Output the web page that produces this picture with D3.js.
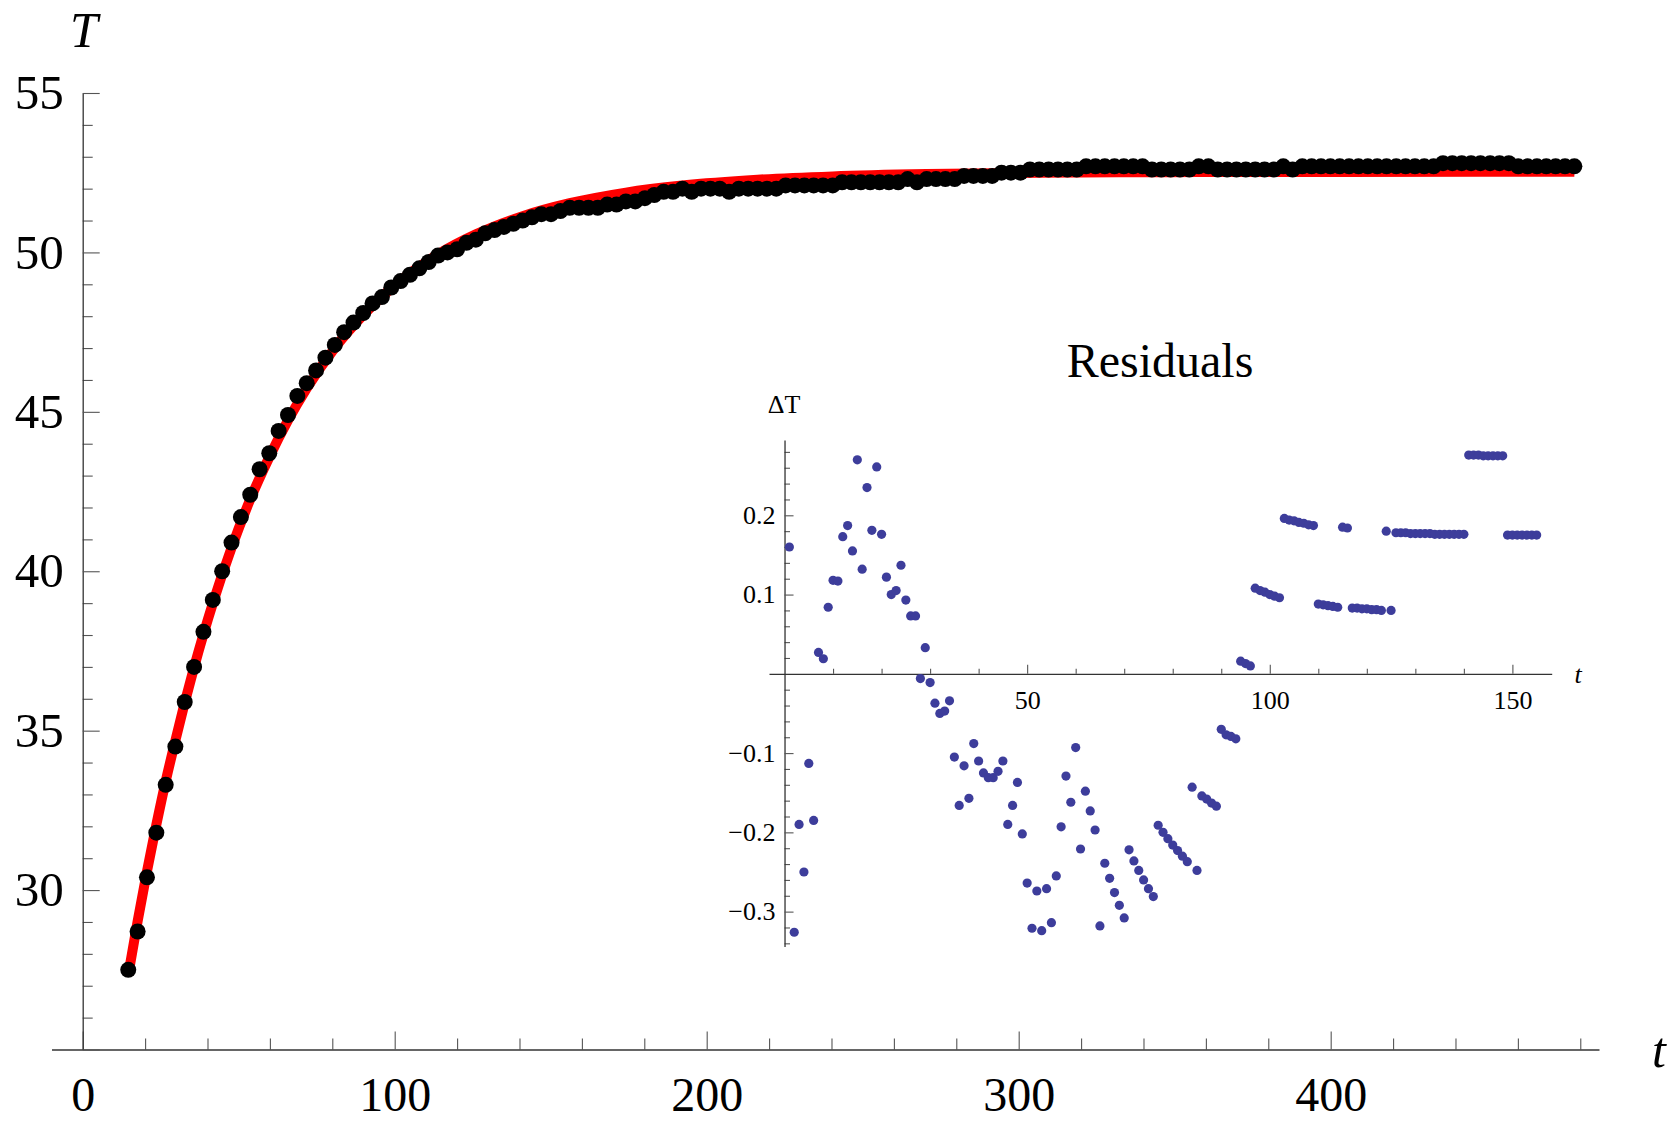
<!DOCTYPE html>
<html>
<head>
<meta charset="utf-8">
<script src="https://cdn.jsdelivr.net/npm/d3@7"></script>
<style>
  html, body { margin: 0; padding: 0; background: #fff; }
  svg { display: block; }
  text { font-family: "Liberation Serif", "Times New Roman", Times, serif; fill: #000; }
</style>
</head>
<body>
<svg id="chart" width="1675" height="1121"></svg>
<script>
// Heating curve: logged temperature T at each sample time t
const sampleTimes = [
  14.6,17.6,20.6,23.6,26.6,29.7,32.7,35.7,38.7,41.7,
  44.7,47.7,50.7,53.7,56.7,59.8,62.8,65.8,68.8,71.8,
  74.8,77.8,80.8,83.8,86.8,89.9,92.9,95.9,98.9,101.9,
  104.9,107.9,110.9,113.9,116.9,120.0,123.0,126.0,129.0,132.0,
  135.0,138.0,141.0,144.0,147.0,150.1,153.1,156.1,159.1,162.1,
  165.1,168.1,171.1,174.1,177.1,180.2,183.2,186.2,189.2,192.2,
  195.2,198.2,201.2,204.2,207.2,210.3,213.3,216.3,219.3,222.3,
  225.3,228.3,231.3,234.3,237.3,240.4,243.4,246.4,249.4,252.4,
  255.4,258.4,261.4,264.4,267.4,270.5,273.5,276.5,279.5,282.5,
  285.5,288.5,291.5,294.5,297.5,300.6,303.6,306.6,309.6,312.6,
  315.6,318.6,321.6,324.6,327.6,330.7,333.7,336.7,339.7,342.7,
  345.7,348.7,351.7,354.7,357.7,360.8,363.8,366.8,369.8,372.8,
  375.8,378.8,381.8,384.8,387.8,390.9,393.9,396.9,399.9,402.9,
  405.9,408.9,411.9,414.9,417.9,421.0,424.0,427.0,430.0,433.0,
  436.0,439.0,442.0,445.0,448.0,451.1,454.1,457.1,460.1,463.1,
  466.1,469.1,472.1,475.1,478.1
];

const temperatures = [
  27.5,28.7,30.4,31.8,33.3,34.5,35.9,37.0,38.1,39.1,
  40.0,40.9,41.7,42.4,43.2,43.7,44.4,44.9,45.5,45.9,
  46.3,46.7,47.1,47.5,47.8,48.1,48.4,48.6,48.9,49.1,
  49.3,49.5,49.7,49.9,50.0,50.1,50.3,50.4,50.6,50.7,
  50.8,50.9,51.0,51.1,51.2,51.2,51.3,51.4,51.4,51.4,
  51.4,51.5,51.5,51.6,51.6,51.7,51.8,51.9,51.9,52.0,
  51.9,52.0,52.0,52.0,51.9,52.0,52.0,52.0,52.0,52.0,
  52.1,52.1,52.1,52.1,52.1,52.1,52.2,52.2,52.2,52.2,
  52.2,52.2,52.2,52.3,52.2,52.3,52.3,52.3,52.3,52.4,
  52.4,52.4,52.4,52.5,52.5,52.5,52.6,52.6,52.6,52.6,
  52.6,52.6,52.7,52.7,52.7,52.7,52.7,52.7,52.7,52.6,
  52.6,52.6,52.6,52.6,52.7,52.7,52.6,52.6,52.6,52.6,
  52.6,52.6,52.6,52.7,52.6,52.7,52.7,52.7,52.7,52.7,
  52.7,52.7,52.7,52.7,52.7,52.7,52.7,52.7,52.7,52.7,
  52.8,52.8,52.8,52.8,52.8,52.8,52.8,52.8,52.7,52.7,
  52.7,52.7,52.7,52.7,52.7
];

// Fitted exponential approach curve, sampled along t
const fitTimes = [
  14.6,17.6,20.6,23.6,26.6,29.7,32.7,35.7,38.7,41.7,
  47.7,53.7,59.8,65.8,71.8,80.8,89.9,101.9,113.9,126.0,
  141.0,156.1,174.1,192.2,216.3,240.4,270.5,306.6,348.7,396.9,
  448.0,478.1
];
const fitTemperatures = [
  27.340,29.019,30.585,32.048,33.412,34.686,35.875,36.985,38.021,38.988,
  40.732,42.252,43.576,44.729,45.734,47.004,48.036,49.119,49.941,50.565,
  51.137,51.543,51.877,52.097,52.280,52.385,52.456,52.497,52.516,52.524,
  52.527,52.528
];

// Residuals ΔT of each sample (sample number 1, 2, ...)
const residuals = [
  0.160,-0.326,-0.190,-0.250,-0.113,-0.185,0.027,0.019,0.084,0.118,
  0.117,0.173,0.187,0.155,0.270,0.132,0.235,0.181,0.261,0.176,
  0.122,0.100,0.105,0.137,0.093,0.073,0.073,-0.006,0.033,-0.011,
  -0.037,-0.050,-0.047,-0.034,-0.105,-0.166,-0.116,-0.157,-0.088,-0.110,
  -0.125,-0.131,-0.131,-0.123,-0.110,-0.190,-0.166,-0.137,-0.202,-0.264,
  -0.321,-0.274,-0.324,-0.271,-0.314,-0.255,-0.193,-0.129,-0.162,-0.093,
  -0.221,-0.148,-0.173,-0.197,-0.318,-0.239,-0.258,-0.276,-0.292,-0.308,
  -0.222,-0.236,-0.248,-0.260,-0.271,-0.281,-0.191,-0.200,-0.208,-0.216,
  -0.223,-0.230,-0.237,-0.143,-0.248,-0.154,-0.158,-0.163,-0.167,-0.070,
  -0.077,-0.079,-0.082,0.016,0.013,0.010,0.108,0.105,0.103,0.100,
  0.098,0.096,0.196,0.194,0.193,0.191,0.190,0.188,0.187,0.088,
  0.087,0.086,0.085,0.084,0.185,0.184,0.083,0.083,0.082,0.082,
  0.081,0.081,0.080,0.180,0.080,0.178,0.178,0.178,0.177,0.177,
  0.177,0.177,0.177,0.176,0.176,0.176,0.176,0.176,0.176,0.176,
  0.276,0.276,0.276,0.275,0.275,0.275,0.275,0.275,0.175,0.175,
  0.175,0.175,0.175,0.175,0.175
];

// Tick positions
const mainXMajor = [0, 100, 200, 300, 400];
const mainXMinor = [20, 40, 60, 80, 120, 140, 160, 180, 220, 240, 260, 280, 320, 340, 360, 380, 420, 440, 460, 480];
const mainYMajor = [25, 30, 35, 40, 45, 50, 55];
const mainYMinor = [26, 27, 28, 29, 31, 32, 33, 34, 36, 37, 38, 39, 41, 42, 43, 44, 46, 47, 48, 49, 51, 52, 53, 54];
const insetXMajor = [50, 100, 150];
const insetXMinor = [10, 20, 30, 40, 60, 70, 80, 90, 110, 120, 130, 140];
const insetYMajor = [-0.3, -0.2, -0.1, 0.1, 0.2];
const insetYMinor = [-0.34, -0.32, -0.28, -0.26, -0.24, -0.22, -0.18, -0.16, -0.14, -0.12,
                     -0.08, -0.06, -0.04, -0.02, 0.02, 0.04, 0.06, 0.08, 0.12, 0.14, 0.16, 0.18,
                     0.22, 0.24, 0.26, 0.28];

const SERIF = '"Liberation Serif", "Times New Roman", Times, serif';
const AXIS_COLOR = "#333";
const TICK_COLOR = "#555";

const svg = d3.select("#chart");

function styleAxis(g, keepDomain) {
  g.attr("font-family", SERIF);
  g.select(".domain").attr("stroke", AXIS_COLOR).attr("stroke-width", 1.3);
  if (!keepDomain) g.select(".domain").remove();
  g.selectAll(".tick line").attr("stroke", TICK_COLOR).attr("stroke-width", 1.1);
}

function styleLabels(g, size) {
  g.selectAll("text")
    .attr("font-family", SERIF)
    .attr("font-size", size)
    .attr("fill", "#000");
}

// ---------- main plot ----------
const x = d3.scaleLinear().domain([-10, 486]).range([51.5, 1599]);
const y = d3.scaleLinear().domain([25, 55]).range([1049.5, 93]);

const main = svg.append("g");

// x axis (ticks point up, into the plot)
main.append("g")
  .attr("transform", `translate(0,${y(25)})`)
  .call(d3.axisBottom(x).tickValues(mainXMinor).tickSizeInner(-11).tickSizeOuter(0).tickFormat(""))
  .call(g => styleAxis(g, false));
main.append("g")
  .attr("transform", `translate(0,${y(25)})`)
  .call(d3.axisBottom(x).tickValues(mainXMajor).tickSizeInner(-18).tickSizeOuter(0).tickPadding(27).tickFormat(d3.format("d")))
  .call(g => styleAxis(g, true))
  .call(g => styleLabels(g, 48));

// y axis (ticks point right)
main.append("g")
  .attr("transform", `translate(${x(0)},0)`)
  .call(d3.axisLeft(y).tickValues(mainYMinor).tickSizeInner(-10).tickSizeOuter(0).tickFormat(""))
  .call(g => styleAxis(g, false));
main.append("g")
  .attr("transform", `translate(${x(0)},0)`)
  .call(d3.axisLeft(y).tickValues(mainYMajor).tickSizeInner(-17).tickSizeOuter(0).tickPadding(19)
        .tickFormat(d => d === 25 ? "" : d3.format("d")(d)))
  .call(g => styleAxis(g, true))
  .call(g => styleLabels(g, 49));

// axis names
main.append("text").attr("x", 84).attr("y", 47).attr("text-anchor", "middle")
  .attr("font-family", SERIF).attr("font-size", 50).attr("font-style", "italic").text("T");
main.append("text").attr("x", 1659).attr("y", 1067).attr("text-anchor", "middle")
  .attr("font-family", SERIF).attr("font-size", 50).attr("font-style", "italic").text("t");

// fitted curve
const fitLine = d3.line()
  .x((d, i) => x(fitTimes[i]))
  .y(d => y(d))
  .curve(d3.curveMonotoneX);
main.append("path")
  .datum(fitTemperatures)
  .attr("d", fitLine)
  .attr("fill", "none")
  .attr("stroke", "#ff0000")
  .attr("stroke-width", 10)
  .attr("stroke-linecap", "butt");

// measured points
main.append("g").selectAll("circle")
  .data(temperatures)
  .join("circle")
  .attr("cx", (d, i) => x(sampleTimes[i]))
  .attr("cy", d => y(d))
  .attr("r", 8)
  .attr("fill", "#000");

// ---------- residuals inset ----------
const xi = d3.scaleLinear().domain([-3.2, 158.1]).range([769, 1551.7]);
const yi = d3.scaleLinear().domain([-0.344, 0.295]).range([946.5, 440]);

const inset = svg.append("g");

inset.append("g")
  .attr("transform", `translate(0,${yi(0)})`)
  .call(d3.axisBottom(xi).tickValues(insetXMinor).tickSizeInner(-5).tickSizeOuter(0).tickFormat(""))
  .call(g => styleAxis(g, false));
inset.append("g")
  .attr("transform", `translate(0,${yi(0)})`)
  .call(d3.axisBottom(xi).tickValues(insetXMajor).tickSizeInner(-9).tickSizeOuter(0).tickPadding(17).tickFormat(d3.format("d")))
  .call(g => styleAxis(g, true))
  .call(g => styleLabels(g, 26));

inset.append("g")
  .attr("transform", `translate(${xi(0)},0)`)
  .call(d3.axisLeft(yi).tickValues(insetYMinor).tickSizeInner(-5.5).tickSizeOuter(0).tickFormat(""))
  .call(g => styleAxis(g, false));
inset.append("g")
  .attr("transform", `translate(${xi(0)},0)`)
  .call(d3.axisLeft(yi).tickValues(insetYMajor).tickSizeInner(-9).tickSizeOuter(0).tickPadding(9).tickFormat(d3.format(".1f")))
  .call(g => styleAxis(g, true))
  .call(g => styleLabels(g, 26));

inset.append("text").attr("x", 784).attr("y", 413).attr("text-anchor", "middle")
  .attr("font-family", SERIF).attr("font-size", 26).text("ΔT");
inset.append("text").attr("x", 1578).attr("y", 683).attr("text-anchor", "middle")
  .attr("font-family", SERIF).attr("font-size", 26).attr("font-style", "italic").text("t");
inset.append("text").attr("x", 1160).attr("y", 377).attr("text-anchor", "middle")
  .attr("font-family", SERIF).attr("font-size", 48).text("Residuals");

inset.append("g").selectAll("circle")
  .data(residuals)
  .join("circle")
  .attr("cx", (d, i) => xi(i + 1))
  .attr("cy", d => yi(d))
  .attr("r", 4.6)
  .attr("fill", "#3d3d9b");
</script>
</body>
</html>
